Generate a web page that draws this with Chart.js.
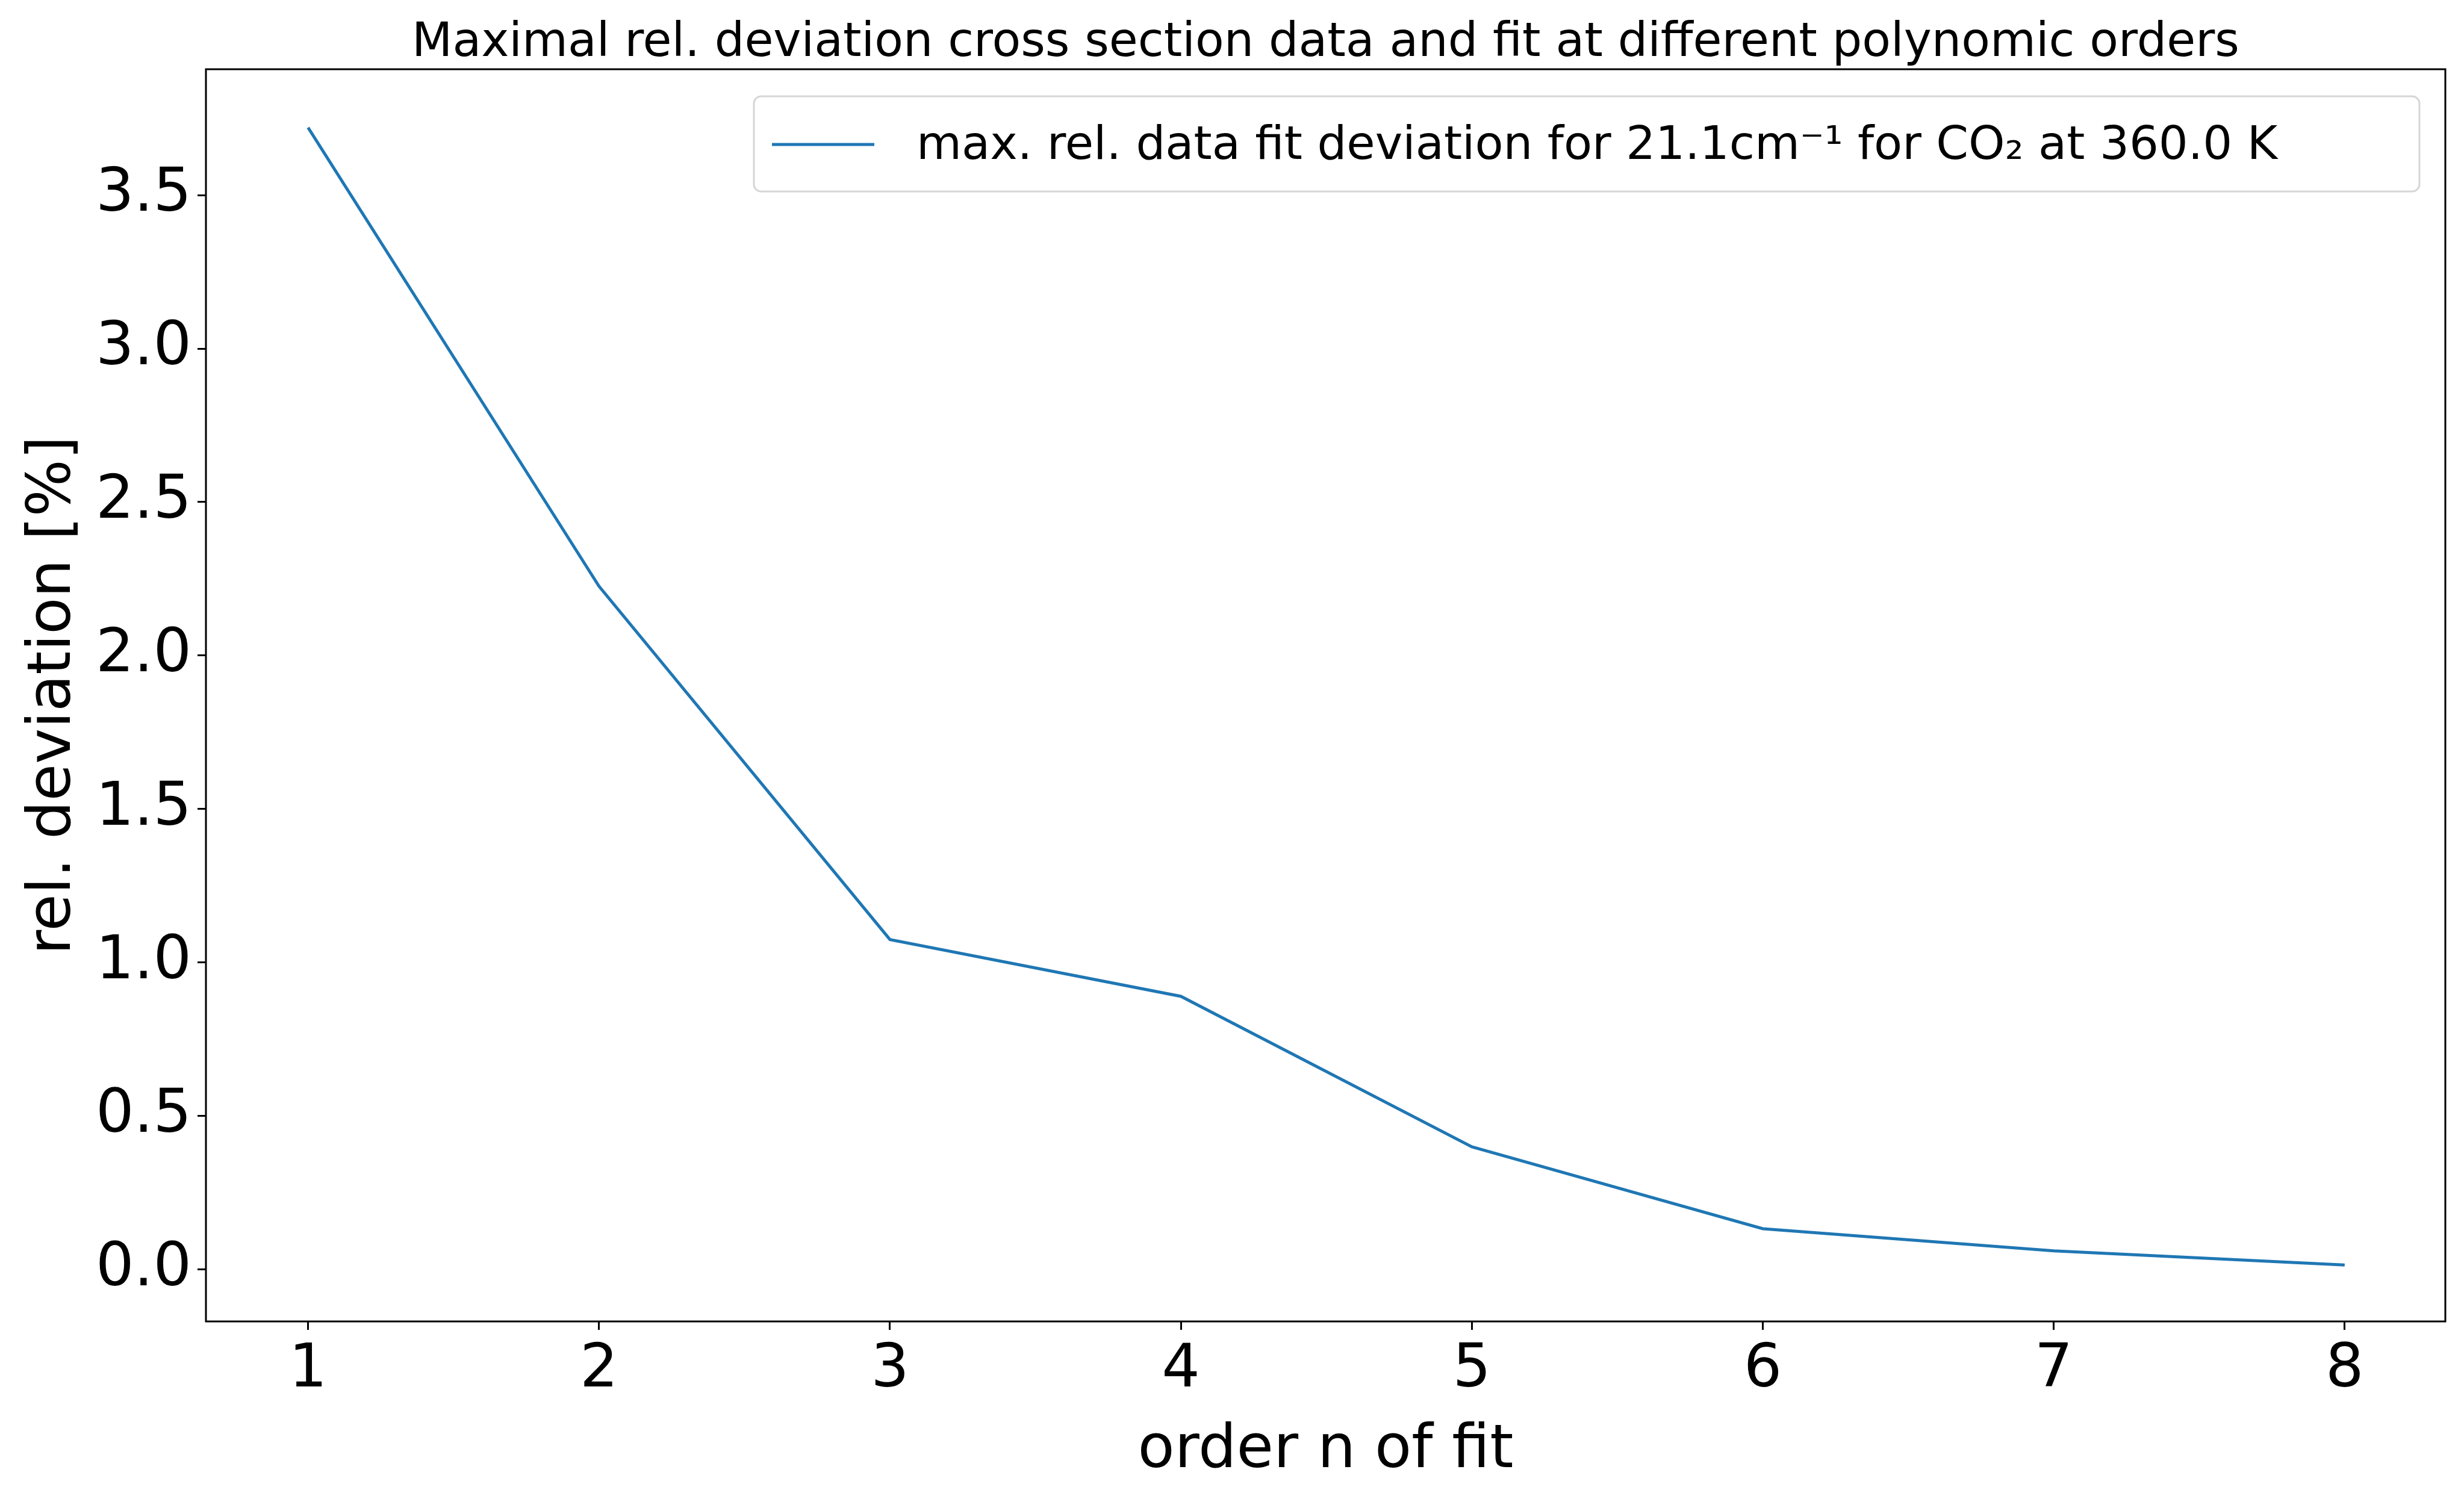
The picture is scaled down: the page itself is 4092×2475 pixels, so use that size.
<!DOCTYPE html>
<html>
<head>
<meta charset="utf-8">
<script src="https://cdn.jsdelivr.net/npm/chart.js@4"></script>
<style>
  html, body { margin: 0; padding: 0; background: #fff; }
  canvas { display: block; }
</style>
</head>
<body>
<canvas id="chart" width="4092" height="2475"></canvas>
<script>
// values
const orders = [1, 2, 3, 4, 5, 6, 7, 8];
const maxRelDeviation = [3.72, 2.226, 1.075, 0.89, 0.40, 0.133, 0.061, 0.015];
const yTicks = [0.0, 0.5, 1.0, 1.5, 2.0, 2.5, 3.0, 3.5];

const titleText = 'Maximal rel. deviation cross section data and fit at different polynomic orders';
const legendText = 'max. rel. data fit deviation for 21.1cm\u207B\u00B9 for CO\u2082 at 360.0 K';
const lineColor = '#1f77b4';
const font = 'DejaVu Sans';

// frame, title and legend drawn like matplotlib
const decorations = {
  id: 'decorations',
  afterDraw(chart) {
    const { ctx, chartArea: a } = chart;
    ctx.save();
    ctx.strokeStyle = '#000';
    ctx.lineWidth = 3;
    ctx.strokeRect(a.left, a.top, a.right - a.left, a.bottom - a.top);

    ctx.fillStyle = '#000';
    ctx.font = `78px "${font}"`;
    ctx.textAlign = 'center';
    ctx.textBaseline = 'alphabetic';
    ctx.fillText(titleText, (a.left + a.right) / 2, a.top - 22);

    // legend box
    const bx = 1252, by = 160, bw = 2766, bh = 158, r = 12;
    ctx.beginPath();
    ctx.roundRect(bx, by, bw, bh, r);
    ctx.fillStyle = 'rgba(255,255,255,0.8)';
    ctx.fill();
    ctx.strokeStyle = '#d6d6d6';
    ctx.lineWidth = 3;
    ctx.stroke();

    ctx.strokeStyle = lineColor;
    ctx.lineWidth = 5;
    ctx.beginPath();
    ctx.moveTo(bx + 30, by + 80);
    ctx.lineTo(bx + 200, by + 80);
    ctx.stroke();

    ctx.fillStyle = '#000';
    ctx.font = `77px "${font}"`;
    ctx.textAlign = 'left';
    ctx.textBaseline = 'middle';
    ctx.fillText(legendText, bx + 270, by + 84);
    ctx.restore();
  }
};

new Chart(document.getElementById('chart'), {
  type: 'line',
  data: {
    datasets: [{
      label: legendText,
      data: orders.map((x, i) => ({ x: x, y: maxRelDeviation[i] })),
      borderColor: lineColor,
      borderWidth: 5,
      pointRadius: 0,
      tension: 0,
      fill: false,
    }],
  },
  options: {
    responsive: false,
    animation: false,
    devicePixelRatio: 1,
    layout: { padding: { top: 115, right: 31, left: 0, bottom: 0 } },
    plugins: {
      legend: { display: false },
      tooltip: { enabled: false },
      title: { display: false },
    },
    scales: {
      x: {
        type: 'linear',
        min: 0.649,
        max: 8.346,
        afterFit(scale) { scale.height = 280; },
        afterBuildTicks(scale) { scale.ticks = orders.map(v => ({ value: v })); },
        grid: { display: true, drawOnChartArea: false, drawTicks: true, tickLength: 14, lineWidth: 3, color: '#000' },
        border: { display: false },
        ticks: { font: { family: font, size: 100 }, color: '#000', padding: 8, maxRotation: 0, callback: v => String(v) },
        title: { display: true, text: 'order n of fit', font: { family: font, size: 100 }, color: '#000', padding: { top: -10 } },
      },
      y: {
        type: 'linear',
        min: -0.169,
        max: 3.91,
        afterFit(scale) { scale.width = 342; },
        afterBuildTicks(scale) { scale.ticks = yTicks.map(v => ({ value: v })); },
        grid: { display: true, drawOnChartArea: false, drawTicks: true, tickLength: 14, lineWidth: 3, color: '#000' },
        border: { display: false },
        ticks: { font: { family: font, size: 100 }, color: '#000', padding: 10, callback: v => v.toFixed(1) },
        title: { display: true, text: 'rel. deviation [%]', font: { family: font, size: 100 }, color: '#000', padding: { top: 30, bottom: 0 } },
      },
    },
  },
  plugins: [decorations],
});
</script>
</body>
</html>
